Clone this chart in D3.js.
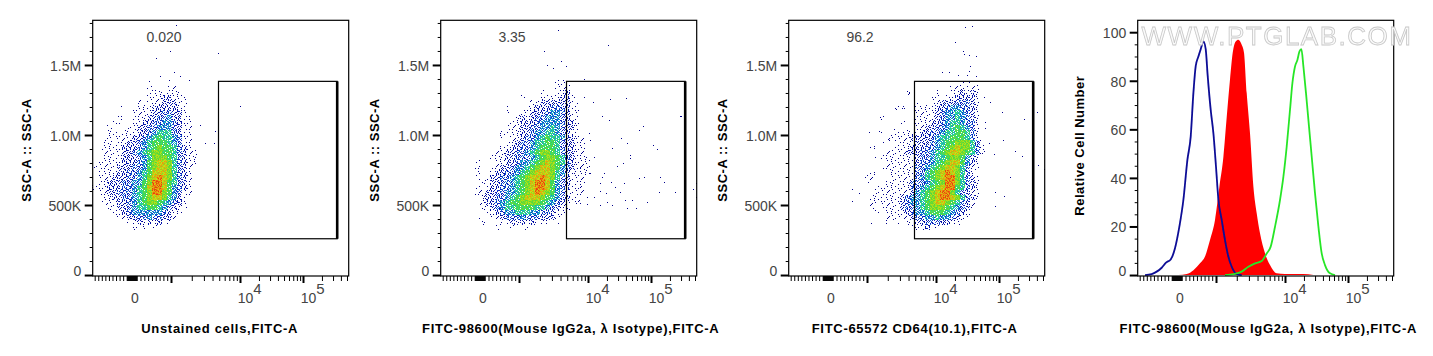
<!DOCTYPE html>
<html>
<head>
<meta charset="utf-8">
<script src="https://cdn.jsdelivr.net/npm/d3@7"></script>
<style>
  html, body { margin: 0; padding: 0; background: #fff; }
  svg { display: block; }
  text { font-family: "Liberation Sans", Arial, sans-serif; }
  .tick-label { font-size: 14px; fill: #444; }
  .axis-title { font-size: 13px; font-weight: bold; fill: #000; }
</style>
</head>
<body>
<div id="chart"></div>
<script>
const width = 1433;
const height = 356;

// Panels
const panelLefts = [92.7, 440.7, 788.7, 1137.7];
const xTitles = [
  "Unstained cells,FITC-A",
  "FITC-98600(Mouse IgG2a, λ Isotype),FITC-A",
  "FITC-65572 CD64(10.1),FITC-A",
  "FITC-98600(Mouse IgG2a, λ Isotype),FITC-A"
];
const xTitleCenters = [127, 130, 126, 130.6];
const yTitles = ["SSC-A :: SSC-A", "SSC-A :: SSC-A", "SSC-A :: SSC-A", "Relative Cell Number"];
const gatePercents = ["0.020", "3.35", "96.2"];

// Axis values
const sscMajor = [0, 500, 1000, 1500];
const sscMajorLabels = ["0", "500K", "1.0M", "1.5M"];
const sscMinor = [100, 200, 300, 400, 600, 700, 800, 900, 1100, 1200, 1300, 1400, 1600, 1700, 1800];
const countMajor = [0, 20, 40, 60, 80, 100];
const countMinor = [5, 10, 15, 25, 30, 35, 45, 50, 55, 65, 70, 75, 85, 90, 95];
const fitcMajor = [1000, 10000, 100000];
const fitcMinor = [
  -1000, -900, -800, -700, -600, -500, -400, -300, -200, -100,
  -90, -80, -70, -60, -50, -40, -30, -20, -10, 0, 10, 20, 30, 40, 50, 60, 70, 80, 90,
  100, 200, 300, 400, 500, 600, 700, 800, 900,
  2000, 3000, 4000, 5000, 6000, 7000, 8000, 9000,
  20000, 30000, 40000, 50000, 60000, 70000, 80000, 90000,
  200000, 300000, 400000, 500000
];
const fitcStops = [-1000, -100, 100, 1000, 10000, 100000, 562000];
const channelStops = [2, 34, 44, 78.3, 147.3, 210.3, 257.5];

// Gate, same on the three dot plots: FITC channel and SSC-A (K)
const gateChannels = [125.8, 244.5];
const gateSsc = [259, 1383];

// Density, one digit per 5x5 px cell (0 = empty, 9 = hottest)
const densityTopSsc = 1393;
const densityStepSsc = 35.7;
const densityStartChannels = [-0.7, 29.3, 71.3];
const densityUnstained = [
  "0000000000000000000000",
  "0000000000010001100000",
  "0000000000011111110000",
  "0000000000011122111000",
  "0000000001011122211000",
  "0000010001112222211000",
  "0000000011112233221000",
  "0000010011122334221100",
  "0000110011223344321100",
  "0001000112233444321100",
  "0001101112234555321100",
  "0001111122345655431100",
  "0011011223456665431100",
  "0011112223456766532100",
  "0011112234567766532110",
  "0011112223457776532110",
  "0111112223467887532110",
  "1111122233467887532100",
  "0111122334568887532100",
  "0111222334578987532100",
  "0112223344679986532100",
  "1112223345689986432100",
  "0112233345679976431100",
  "0011223345678875421000",
  "0011122345677654321000",
  "0001122345566543211000",
  "0000112344444432110000",
  "0000011223343322100000",
  "0000000112121211000000",
  "0000000010101000000000"
];
const densityIsotype = [
  "00000000000000000110000000",
  "00000000000000000111000000",
  "00000000000000100112000000",
  "00000000001000111122100000",
  "00000000000011222222110000",
  "00000001000112223332110000",
  "00000001001122234432110000",
  "00000000012123344432110000",
  "00000000112223444432210000",
  "00000001112233445432210000",
  "00000011112234455432110000",
  "00000010112334565542211000",
  "00000001123345566532211000",
  "00000011223345666532211000",
  "00000112233456776532211000",
  "00001112233345677653211100",
  "01000112234456787653211100",
  "01001122344567887643211100",
  "01001223345678887542111100",
  "01012233456788987532111000",
  "00112233456789986432111000",
  "01012233456789986432111000",
  "01122334456789876431111000",
  "00122334567888765432110000",
  "00122345667777654321010000",
  "00112345566665543211000000",
  "00011234455544332110000000",
  "01001123334333222100000000",
  "00100011212121110100000000",
  "00000100100100000000000000"
];
const densityCd64 = [
  "00000000000000000000100000",
  "00000000000000000011111100",
  "00000000010000010011212100",
  "00000000000000110112222100",
  "00000000000100112223332100",
  "00000001100111122344332100",
  "00000000000111123445432100",
  "00001000000111123445432100",
  "00000000100111223455433100",
  "00000000000112233456543100",
  "01001001111122334556653100",
  "00000111112222345566653100",
  "00001001111222345667775310",
  "00100001112223345678775310",
  "00000111122233456788765310",
  "00011111111233455677642100",
  "00000111111233456788642100",
  "00001111111334567887531100",
  "00100011111335678987531000",
  "01100011111345678997532100",
  "00000111113334567997532100",
  "00011111113345678996532100",
  "00011111112456789975321100",
  "00111111234456789987532100",
  "00111111234456788765321000",
  "00101111233456777654321000",
  "00010111123445666543210000",
  "00000111112334454432110000",
  "00000101011223332211000000",
  "00000000001112010000000000"
];

// Single events outside the clouds: [FITC channel, SSC-A (K)]
const eventsUnstained = [
  [83, 1786], [77, 1602], [63, 1548], [125, 1583], [147, 1205], [67, 1421], [81, 1452],
  [87, 1421], [76, 1393], [96, 1393], [56, 1386], [122, 1029], [112, 943], [121, 943], [107, 1071]
];
const eventsIsotype = [
  [117, 1750], [167, 1643], [103, 1602], [120, 1531], [106, 1498], [112, 1476], [125, 1493], [143, 1402],
  [133, 1274], [143, 1274], [152, 1233], [169, 1257], [185, 1262], [239, 1138], [240, 1138], [161, 1138],
  [202, 1067], [168, 1107], [198, 1036], [212, 929], [216, 900], [180, 976], [171, 905], [186, 940],
  [189, 857], [189, 833], [148, 1012], [149, 964], [143, 905], [139, 774], [163, 731], [161, 702],
  [176, 781], [182, 798], [153, 845], [219, 702], [203, 702], [198, 695], [223, 662], [170, 667],
  [183, 660], [159, 655], [174, 631], [218, 595], [234, 590], [255, 660], [252, 612], [255, 560],
  [179, 595], [165, 583], [159, 602], [153, 560], [138, 536], [146, 507], [139, 512], [159, 500],
  [166, 524], [171, 500], [184, 536], [191, 536], [206, 524], [195, 476], [186, 476], [149, 726],
  [133, 726], [139, 631], [146, 560]
];
const eventsCd64 = [
  [176, 1769], [183, 1779], [166, 1667], [174, 1602], [175, 1579], [180, 1571], [187, 1564], [181, 1495],
  [180, 1460], [153, 1448], [160, 1448], [169, 1429], [178, 1429], [187, 1424], [180, 1381], [201, 1238],
  [195, 1274], [213, 1162], [248, 1162], [235, 1114], [214, 964], [196, 1095], [205, 864], [226, 886],
  [233, 850], [249, 786], [255, 755], [221, 698], [206, 590], [215, 567], [206, 495], [196, 1048],
  [200, 940], [193, 869], [120, 1298], [113, 1190], [107, 1186], [91, 1131], [80, 1019], [90, 1029],
  [105, 1040], [100, 964], [63, 612], [70, 583], [63, 531], [82, 369], [79, 667], [86, 464]
];

// Histogram overlay: [FITC channel, relative cell number]
const histUnstained = [
  [7.3, 0], [14, 0.4], [19, 1.4], [24, 3], [28.3, 5.1], [33, 6.4], [37.3, 11], [41.7, 20], [45.7, 31],
  [49.7, 47.4], [53, 57], [55.7, 75], [58, 86], [60.7, 90], [63, 93], [65.7, 96.2], [68, 93], [70, 82],
  [73, 68], [75.7, 58.4], [78.3, 44.6], [80.7, 31], [84, 22.7], [87.3, 14.4], [90.7, 7.5], [94, 3.4],
  [99, 0.4], [104, 0]
];
const histIsotype = [
  [40.7, 0], [49, 0.4], [55.7, 2], [62.3, 4.8], [67.3, 7.6], [72.3, 14.4], [77.3, 22.7], [81.7, 36.4],
  [85.7, 48.7], [89, 65], [92.3, 80.5], [95, 91.5], [98, 96.2], [100.7, 96.9], [104, 94.8], [106.3, 91.5],
  [109, 75], [112.3, 58.4], [115.7, 36.4], [119, 25.4], [122.3, 17.2], [127.3, 9], [132.3, 4.1],
  [139, 0.7], [147.3, 0.4], [165.7, 0.4], [175.7, 0]
];
const histCd64 = [
  [87.3, 0], [95.7, 0.4], [104, 1.4], [110.7, 3.4], [117.3, 4.8], [124, 5.8], [129, 8.9], [133, 11.7],
  [137.3, 19.9], [142.3, 30.9], [145.7, 40.5], [149, 52.9], [152.3, 68], [154.7, 79], [157.3, 85.9],
  [159.7, 88.6], [161.7, 92], [163.7, 93], [165.7, 85.9], [168.3, 74.9], [170.7, 63.9], [174, 48.8],
  [177.3, 33.7], [180.7, 19.9], [184, 8.9], [187.3, 4.1], [192.3, 0.7], [197.3, 0]
];

const plotSize = 256;
const plotTop = 20.3;
const plotBottom = 276;

const svg = d3.select("#chart").append("svg")
  .attr("width", width)
  .attr("height", height);

const defs = svg.append("defs");
defs.append("filter").attr("id", "soft")
  .append("feGaussianBlur").attr("stdDeviation", 0.2);
defs.append("filter").attr("id", "soft-mark")
  .append("feGaussianBlur").attr("stdDeviation", 0.5);

// Pseudocolour ramp of the dot plots
const densityColor = d3.scaleLinear()
  .domain([1, 3, 4, 5, 6, 7, 8, 9, 10])
  .range(["#00008c", "#0a1ec0", "#1482dc", "#28d2aa", "#3cd750", "#78dc28", "#c8e014", "#f08c0a", "#e62d0a"])
  .clamp(true);

// Stipple tile: a pixel lights up once the cell level reaches its digit
const stippleTile = [
  "63948215739462857", "28574936152874396", "75193648297536148", "49682571436925783",
  "36415287953148629", "84729361586247935", "19536842674395162", "67248593127586349",
  "52874136945263817", "38961754283697425", "94315682576134968", "27649358419785236",
  "85172946363528471"
];
const stippleReach = [0, 1, 3, 4, 6, 7, 8, 9, 9, 9];

d3.range(1, 10).forEach(level => {
  const pattern = defs.append("pattern")
    .attr("id", `level-${level}`)
    .attr("patternUnits", "userSpaceOnUse")
    .attr("width", stippleTile[0].length)
    .attr("height", stippleTile.length);
  stippleTile.forEach((row, j) => {
    row.split("").forEach((c, i) => {
      const t = +c;
      if (t > stippleReach[level]) return;
      pattern.append("rect")
        .attr("x", i).attr("y", j)
        .attr("width", 1).attr("height", 1)
        .attr("fill", densityColor(level + ((t * 7) % 5 - 2) * 0.4));
    });
  });
});

// FITC display scale: linear around zero, log above 1000
const fitcToAxis = v => Math.abs(v) <= 1000
  ? v / 1000
  : Math.sign(v) * (1 + Math.log10(Math.abs(v) / 1000));

function drawFrameAndAxes(g, left, yScale, majors, minors, labels) {
  const xAxisScale = d3.scaleLinear()
    .domain(fitcStops.map(fitcToAxis))
    .range(channelStops.map(c => left + c));

  g.append("g")
    .attr("transform", `translate(0,${plotBottom})`)
    .call(d3.axisBottom(xAxisScale).tickValues(fitcMinor.map(fitcToAxis)).tickSize(5).tickFormat(""))
    .call(a => a.select(".domain").remove());

  g.append("g")
    .attr("transform", `translate(0,${plotBottom})`)
    .call(d3.axisBottom(xAxisScale).tickValues(fitcMajor.map(fitcToAxis)).tickSize(7).tickFormat(""))
    .call(a => a.select(".domain").remove())
    .call(a => a.selectAll("line").attr("stroke-width", 2));

  g.append("g")
    .attr("transform", `translate(${left},0)`)
    .call(d3.axisLeft(yScale).tickValues(minors).tickSize(3).tickFormat(""))
    .call(a => a.select(".domain").remove());

  g.append("g")
    .attr("transform", `translate(${left},0)`)
    .call(d3.axisLeft(yScale).tickValues(majors).tickSize(8).tickPadding(3.5)
      .tickFormat((d, i) => labels[i]))
    .call(a => a.select(".domain").remove())
    .call(a => a.selectAll("line").attr("stroke-width", 2))
    .call(a => a.selectAll("text")
      .attr("class", "tick-label")
      .attr("fill", null)
      .style("font-family", null)
      .style("font-size", null)
      .attr("y", d => d === 0 ? -4 : 1));

  // FITC labels: 0, 10^4 and 10^5
  g.append("text").attr("class", "tick-label")
    .attr("x", left + 42.3).attr("y", 303)
    .attr("text-anchor", "middle").text("0");
  [10000, 100000].forEach(v => {
    const tx = xAxisScale(fitcToAxis(v));
    const label = g.append("text").attr("class", "tick-label")
      .attr("x", tx + 9.7).attr("y", 303).attr("text-anchor", "middle");
    label.append("tspan").text("10");
    label.append("tspan").attr("dy", -9).attr("font-size", 15).text(Math.log10(v));
  });

  g.append("rect")
    .attr("x", left).attr("y", plotTop)
    .attr("width", plotSize).attr("height", plotBottom - plotTop)
    .attr("fill", "none").attr("stroke", "#000").attr("stroke-width", 1.2);
}

function drawTitles(g, i, left, yCenter, yOffset) {
  g.append("text").attr("class", "axis-title")
    .attr("x", left + xTitleCenters[i]).attr("y", 333)
    .attr("letter-spacing", 0.7)
    .attr("text-anchor", "middle").text(xTitles[i]);
  g.append("text").attr("class", "axis-title")
    .attr("transform", `translate(${left + yOffset},${yCenter}) rotate(-90)`)
    .attr("letter-spacing", 0.5)
    .attr("text-anchor", "middle").text(yTitles[i]);
}

// Dot plots
const dotPanels = [
  { density: densityUnstained, events: eventsUnstained },
  { density: densityIsotype, events: eventsIsotype },
  { density: densityCd64, events: eventsCd64 }
];

dotPanels.forEach((panel, i) => {
  const left = panelLefts[i];
  const g = svg.append("g");

  const xChannel = d3.scaleLinear().domain([0, plotSize]).range([left, left + plotSize]);
  const ySsc = d3.scaleLinear().domain([-7, 1819]).range([plotBottom, plotTop]);

  const cells = [];
  panel.density.forEach((row, r) => {
    row.split("").forEach((c, k) => {
      if (+c > 0) cells.push({ r, k, level: +c });
    });
  });

  const cloud = g.append("g").attr("filter", "url(#soft)");

  cloud.selectAll(".cell")
    .data(cells)
    .join("rect")
    .attr("class", "cell")
    .attr("x", d => Math.round(xChannel(densityStartChannels[i] + d.k * 5)))
    .attr("y", d => Math.round(ySsc(densityTopSsc - d.r * densityStepSsc)))
    .attr("width", 5)
    .attr("height", 5)
    .attr("fill", d => `url(#level-${d.level})`);

  cloud.selectAll(".event")
    .data(panel.events)
    .join("rect")
    .attr("class", "event")
    .attr("x", d => Math.round(xChannel(d[0])))
    .attr("y", d => Math.round(ySsc(d[1])))
    .attr("width", 1)
    .attr("height", 1)
    .attr("fill", "#00008c");

  // Gate, its right side is drawn heavier in the source
  const gx0 = xChannel(gateChannels[0]);
  const gx1 = xChannel(gateChannels[1]);
  const gy0 = ySsc(gateSsc[1]);
  const gy1 = ySsc(gateSsc[0]);
  g.append("rect")
    .attr("x", gx0).attr("y", gy0)
    .attr("width", gx1 - gx0).attr("height", gy1 - gy0)
    .attr("fill", "none").attr("stroke", "#000").attr("stroke-width", 1.2);
  g.append("line")
    .attr("x1", gx1).attr("x2", gx1)
    .attr("y1", gy0).attr("y2", gy1)
    .attr("stroke", "#000").attr("stroke-width", 2.6);

  g.append("text").attr("class", "tick-label")
    .attr("x", left + 71.3).attr("y", 42)
    .attr("text-anchor", "middle").text(gatePercents[i]);

  drawFrameAndAxes(g, left, ySsc, sscMajor, sscMinor, sscMajorLabels);
  drawTitles(g, i, left, 150, -61.7);
});

// Histogram overlay
{
  const left = panelLefts[3];
  const g = svg.append("g");
  const xChannel = d3.scaleLinear().domain([0, plotSize]).range([left, left + plotSize]);
  const yCount = d3.scaleLinear().domain([-0.4, 104.9]).range([plotBottom, plotTop]);

  const area = d3.area()
    .x(d => xChannel(d[0]))
    .y0(yCount(0))
    .y1(d => yCount(d[1]))
    .curve(d3.curveMonotoneX);
  const line = d3.line()
    .x(d => xChannel(d[0]))
    .y(d => yCount(d[1]))
    .curve(d3.curveMonotoneX);

  const marks = g.append("g").attr("filter", "url(#soft-mark)");
  marks.append("path").attr("d", area(histIsotype)).attr("fill", "#ff0000");
  marks.append("path").attr("d", line(histUnstained))
    .attr("fill", "none").attr("stroke", "#0a0a96").attr("stroke-width", 1.8);
  marks.append("path").attr("d", line(histCd64))
    .attr("fill", "none").attr("stroke", "#28e628").attr("stroke-width", 1.8);

  drawFrameAndAxes(g, left, yCount, countMajor, countMinor, countMajor.map(String));
  drawTitles(g, 3, left, 145.7, -53.4);

  // Site watermark over the plot
  svg.append("text")
    .attr("x", 1277).attr("y", 44.5)
    .attr("text-anchor", "middle")
    .attr("font-size", 26)
    .attr("letter-spacing", 1.5)
    .attr("fill", "#fafafa")
    .attr("stroke", "#c8c8c8")
    .attr("stroke-width", 0.8)
    .attr("filter", "url(#soft)")
    .text("WWW.PTGLAB.COM");
}
</script>
</body>
</html>
